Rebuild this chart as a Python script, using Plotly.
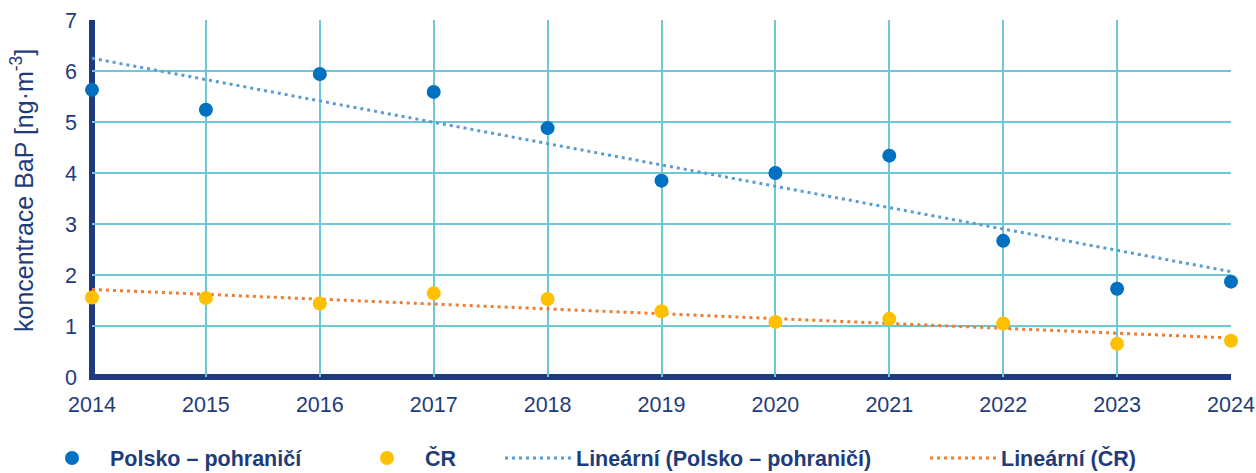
import numpy as np
import plotly.graph_objects as go

years = [2014, 2015, 2016, 2017, 2018, 2019, 2020, 2021, 2022, 2023, 2024]
polsko = [5.63, 5.24, 5.94, 5.59, 4.88, 3.85, 4.00, 4.34, 2.67, 1.73, 1.87]
cr = [1.56, 1.55, 1.44, 1.64, 1.53, 1.29, 1.08, 1.14, 1.05, 0.65, 0.71]

name_pl = "Polsko – pohraničí"
name_cr = "ČR"
name_pl_lin = "Lineární (Polsko – pohraničí)"
name_cr_lin = "Lineární (ČR)"
y_title = "koncentrace BaP [ng·m<sup>-3</sup>]"

NAVY = "#1F3C7A"
AXIS = "#1F3A80"
GRID = "#6CC8D6"
FONT = "Liberation Sans, Arial, sans-serif"

x_arr = np.array(years, dtype=float)
pl_fit = np.polyval(np.polyfit(x_arr, polsko, 1), x_arr)
cr_fit = np.polyval(np.polyfit(x_arr, cr, 1), x_arr)

fig = go.Figure()
fig.add_trace(go.Scatter(x=years, y=pl_fit, mode="lines", name=name_pl_lin,
                         line=dict(color="#5B9BD5", width=3, dash="3px,4px"),
                         legend="legend3"))
fig.add_trace(go.Scatter(x=years, y=cr_fit, mode="lines", name=name_cr_lin,
                         line=dict(color="#ED7D31", width=3, dash="3px,4px"),
                         legend="legend4"))
fig.add_trace(go.Scatter(x=years, y=polsko, mode="markers", name=name_pl,
                         marker=dict(color="#0070C0", size=14), cliponaxis=False,
                         legend="legend"))
fig.add_trace(go.Scatter(x=years, y=cr, mode="markers", name=name_cr,
                         marker=dict(color="#FFC000", size=14), cliponaxis=False,
                         legend="legend2"))

L, R, T, B = 92, 25, 20, 96
W, H = 1256, 473
pw, ph = W - L - R, H - T - B

def px_x(p):
    return (p - L) / pw

def px_y(p):
    return (H - B - p) / ph

leg_font = dict(family=FONT, size=21.5, color=NAVY, weight="bold")
leg_common = dict(orientation="h", yanchor="middle", xanchor="left",
                  font=leg_font, bgcolor="rgba(0,0,0,0)", y=px_y(458),
                  itemwidth=66)

fig.update_layout(
    width=W, height=H,
    margin=dict(l=L, r=R, t=T, b=B, autoexpand=False),
    paper_bgcolor="white", plot_bgcolor="white",
    showlegend=True,
    legend=dict(x=px_x(34), **leg_common),
    legend2=dict(x=px_x(349), **leg_common),
    legend3=dict(x=px_x(500), **leg_common),
    legend4=dict(x=px_x(925), **leg_common),
    xaxis=dict(range=[2014, 2024], tickmode="array", tickvals=years,
               ticktext=[str(y) for y in years],
               showgrid=True, gridcolor=GRID, gridwidth=1.5,
               zeroline=False, showline=False, ticks="", automargin=False,
               tickfont=dict(family=FONT, size=21.5, color=NAVY),
               ticklabelstandoff=12),
    yaxis=dict(range=[0, 7], tickmode="array", tickvals=[0, 1, 2, 3, 4, 5, 6, 7],
               showgrid=True, gridcolor=GRID, gridwidth=1.5,
               zeroline=False, showline=False, ticks="", automargin=False,
               tickfont=dict(family=FONT, size=21.5, color=NAVY),
               ticklabelstandoff=14),
    shapes=[dict(type="path", xref="paper", yref="paper",
                 path="M 0,1 L 0,0 L 1,0",
                 line=dict(color=AXIS, width=6), layer="between")],
    annotations=[dict(text=y_title, xref="paper", yref="paper",
                      x=px_x(22), y=px_y(191), xanchor="center", yanchor="middle",
                      textangle=-90, showarrow=False,
                      font=dict(family=FONT, size=25, color=NAVY))],
)

fig.write_html("out.html", config={"displayModeBar": False},
               post_script="document.body.style.margin='0';document.body.style.overflow='hidden';")
